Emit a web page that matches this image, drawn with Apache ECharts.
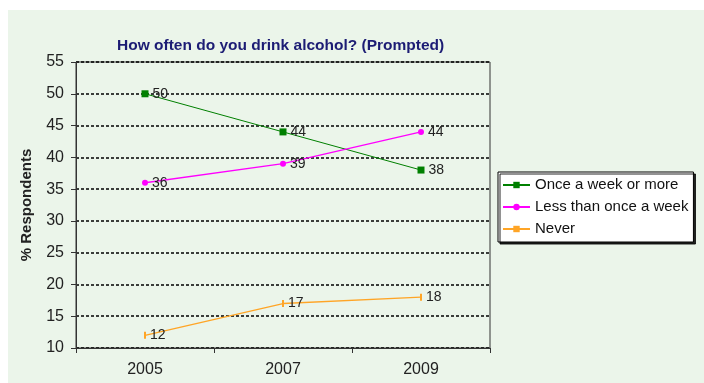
<!DOCTYPE html>
<html><head><meta charset="utf-8">
<script src="https://cdn.jsdelivr.net/npm/echarts@6/dist/echarts.min.js"></script>
<style>html,body{margin:0;padding:0;background:#fff}#c{width:704px;height:383px}</style>
</head><body><div id="c"></div>
<script>
const years = ['2005', '2007', '2009'];
const onceWeekOrMore = [50, 44, 38];
const lessThanOnceWeek = [36, 39, 44];
const never = [12, 17, 18];
const yTicks = [10, 15, 20, 25, 30, 35, 40, 45, 50, 55];

const FF = 'Liberation Sans';
const chart = echarts.init(document.getElementById('c'));
const lbl = {show: true, position: 'right', distance: 4, fontSize: 14, color: '#222', fontFamily: FF};
chart.setOption({
  backgroundColor: '#fff',
  animation: false,
  graphic: [{type: 'rect', z: -10, shape: {x: 8, y: 10, width: 696, height: 373}, style: {fill: '#EBF5EA'}}],
  title: {text: 'How often do you drink alcohol? (Prompted)', left: 112, top: 33,
    textStyle: {fontSize: 15.5, fontWeight: 'bold', color: '#1C1C74', fontFamily: FF}},
  grid: {left: 76, right: 214, top: 62, bottom: 35, show: true, borderColor: '#333', borderWidth: 1, backgroundColor: 'transparent'},
  legend: {orient: 'vertical', left: 498, top: 172, itemWidth: 27, itemHeight: 8, itemGap: 6,
    padding: [5, 5, 5, 4], backgroundColor: '#fff', borderColor: '#000', borderWidth: 1,
    shadowColor: 'rgba(0,0,0,0.85)', shadowOffsetX: 2, shadowOffsetY: 2, shadowBlur: 0,
    textStyle: {fontSize: 15, lineHeight: 16, color: '#111', fontFamily: FF},
    data: ['Once a week or more', 'Less than once a week', 'Never']},
  xAxis: {type: 'category', data: years, boundaryGap: true,
    axisLine: {lineStyle: {color: '#333'}}, axisTick: {show: true, length: 5, lineStyle: {color: '#333'}},
    axisLabel: {fontSize: 16, color: '#222', margin: 14, fontFamily: FF}},
  yAxis: {type: 'value', min: yTicks[0], max: yTicks[yTicks.length - 1], interval: 5,
    name: '% Respondents', nameLocation: 'middle', nameGap: 42,
    nameTextStyle: {fontSize: 15, fontWeight: 'bold', color: '#222', fontFamily: FF},
    axisLine: {show: true, lineStyle: {color: '#333'}}, axisTick: {show: true, length: 5, lineStyle: {color: '#333'}},
    axisLabel: {fontSize: 16, color: '#222', margin: 12, fontFamily: FF},
    splitLine: {lineStyle: {color: '#000', type: [3, 2], width: 1.5}}},
  series: [
    {name: 'Once a week or more', type: 'line', data: onceWeekOrMore, color: '#008000',
     symbol: 'rect', symbolSize: 7, lineStyle: {width: 1}, label: lbl},
    {name: 'Less than once a week', type: 'line', data: lessThanOnceWeek, color: '#FF00FF',
     symbol: 'circle', symbolSize: 6, lineStyle: {width: 1.3}, label: lbl},
    {name: 'Never', type: 'line', data: never, color: '#FFA526',
     symbol: 'rect', symbolSize: [2, 7], lineStyle: {width: 1.3}, label: lbl}
  ]
});
</script></body></html>
